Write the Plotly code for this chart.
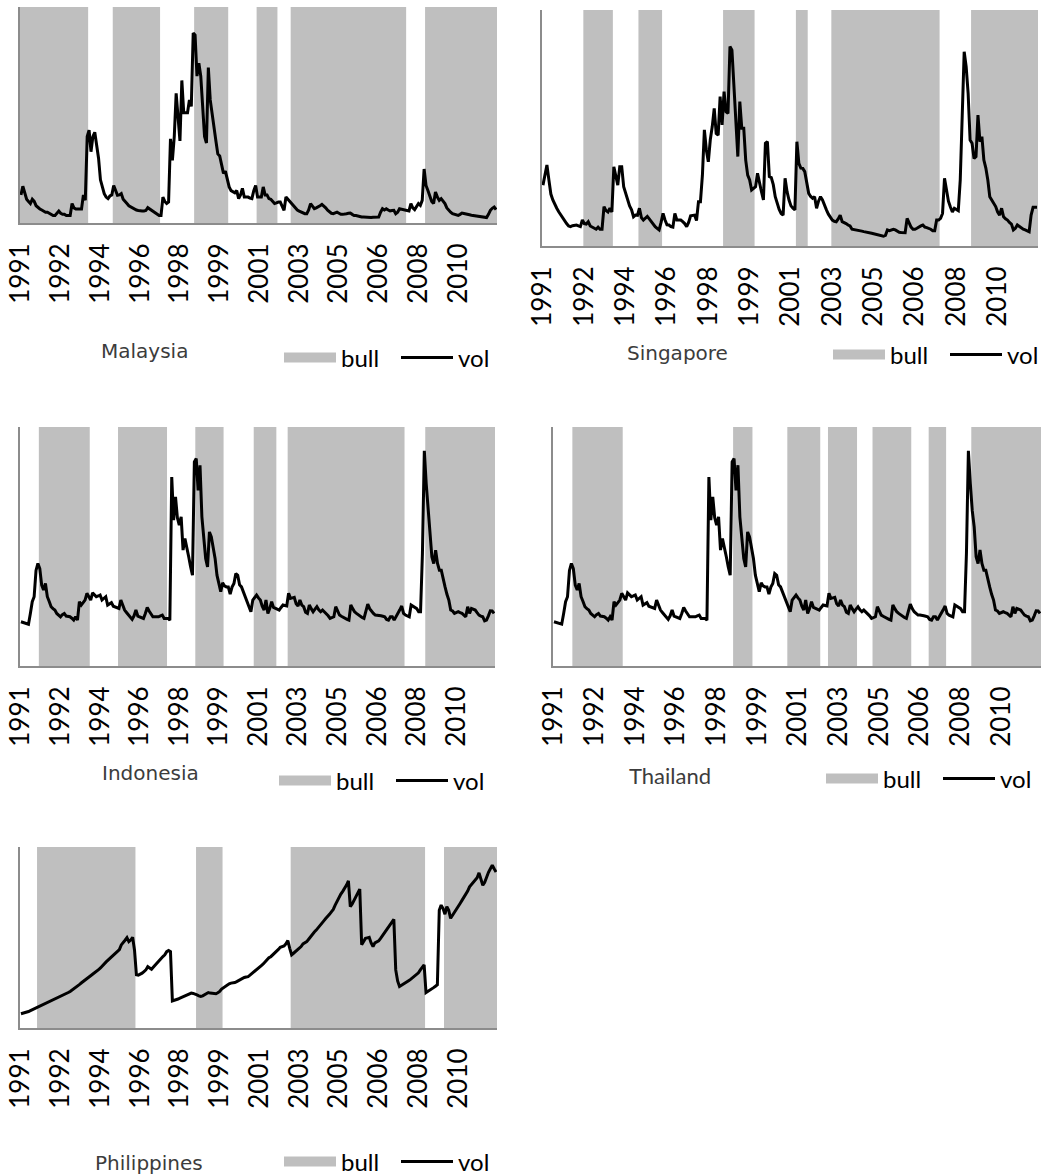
import plotly.graph_objects as go

# ---------------- data ----------------
n_months = 252  # monthly, Jan 1991 .. Dec 2011
tick_idx = list(range(0, 232, 21))
tick_text = ['1991', '1992', '1994', '1996', '1998', '1999',
             '2001', '2003', '2005', '2006', '2008', '2010']

malaysia_vol = [
    13, 17, 14, 11, 10, 9, 11, 10, 8, 7, 6.5, 6,
    5.5, 5, 5, 4.5, 4, 3.5, 3.5, 4.5, 5.5, 4.5, 4, 4,
    3.5, 3.5, 3.5, 9, 7, 6.5, 6.5, 6.5, 6.5, 13, 10.5, 40,
    43, 33, 40, 42, 36, 30, 20, 16, 13.6, 12, 11.3, 12.5,
    13, 17.4, 15, 12.8, 13, 13.6, 11, 9.7, 9, 8, 7.4, 7,
    6.2, 6, 5.8, 5.6, 5.6, 5.6, 5.8, 7.1, 6.5, 6, 5, 4.5,
    4, 3.5, 3.5, 12, 10, 9, 9.7, 39, 29, 40, 60, 50,
    38, 66, 51, 51, 51, 57, 54, 88, 87, 68, 74, 68,
    55, 40, 37, 72, 57, 50, 44, 38, 32, 31, 27, 23,
    24, 20, 16.7, 15, 14.4, 14, 15, 11.3, 13, 16, 12, 12,
    12, 11.5, 11.3, 15, 17.4, 12, 12, 12, 16.7, 13, 13, 11.3,
    11, 10, 9, 9.3, 9.7, 9.7, 8, 5.9, 12, 11, 10, 9,
    8, 6.6, 6, 5.5, 5, 4.6, 4.3, 4.3, 6, 9, 7.5, 6.6,
    7, 7.4, 8, 8.6, 8, 7, 5.9, 5, 4.5, 4.3, 4.6, 5,
    4.5, 4, 4, 4.3, 4.3, 4.5, 4.6, 4, 3.5, 3.5, 3.2, 3,
    2.8, 2.8, 2.7, 2.6, 2.5, 2.6, 2.7, 2.8, 2.8, 2.8, 5, 6.6,
    6, 6.6, 6, 5.6, 5.8, 5.9, 4.3, 5, 6.6, 6.4, 6.2, 6,
    5.6, 5.6, 9, 7, 6.2, 7.5, 9, 8.2, 10.5, 25, 17.4, 15,
    12, 10, 9, 14.4, 12, 10.5, 11.3, 10, 9, 7, 5.9, 5,
    4.3, 4, 3.8, 3.5, 4, 4.6, 4.4, 4.3, 4, 3.8, 3.6, 3.5,
    3.4, 3.3, 3.1, 3, 2.8, 2.6, 2.5, 4, 5.9, 6.8, 7.4, 6.2,
]

singapore_vol = [
    25.8, 30, 34.3, 28, 22, 19.5, 17.5, 16, 14.5, 13.1, 12, 10.3,
    9.5, 8.5, 8.2, 8.6, 8.9, 8.9, 8.5, 8.2, 11, 9.5, 9.3, 10.3,
    8.5, 8, 7.5, 7.1, 8, 7.1, 7.1, 16.7, 15, 14.4, 16, 14.4,
    33.6, 30, 25.8, 33.6, 33.6, 25.1, 22, 19.5, 17, 15.3, 12.4, 13.1,
    13, 16, 12, 11, 11.7, 12.5, 11.5, 10.3, 9, 8.2, 7.5, 6.8,
    10, 13.8, 11, 9, 8.9, 8.2, 8, 13.8, 11, 11, 11, 10.3,
    9.5, 8.2, 10, 12.8, 13, 13.1, 10.8, 18.8, 18.8, 30, 49.2, 40.7,
    35.7, 45, 50.6, 58.3, 47.7, 47, 63.3, 51.3, 65.4, 56.9, 56.2, 84.5,
    83, 67.5, 49.2, 37.9, 61.2, 49.9, 49.9, 36.4, 30, 28, 23.7, 24.5,
    25.1, 30.8, 26, 23, 19.5, 43.5, 44.2, 29.4, 29, 26, 20.9, 18,
    15.5, 13.8, 13.1, 28.7, 23, 19.5, 17, 16, 15.3, 44.2, 35, 33,
    32.9, 31.5, 26.6, 22.3, 21, 20.2, 20.9, 16, 19, 20.9, 19.5, 17,
    15.3, 13.5, 12, 11, 10.5, 10.3, 11.5, 13.1, 10.3, 10, 9.5, 8.9,
    8.5, 7.1, 7, 6.9, 6.8, 6.5, 6.3, 6.1, 6, 5.8, 5.6, 5.4,
    5.2, 5, 4.7, 4.5, 4.4, 4.2, 4.5, 6.8, 6.5, 6.8, 7.1, 6.8,
    6.2, 5.8, 5.7, 5.6, 5.6, 11.7, 9.6, 8, 7.1, 7.1, 7.5, 8.2,
    8.5, 8.9, 8, 7.8, 7.5, 7.1, 6.5, 6.5, 11, 11, 11.7, 13.8,
    28.7, 23, 19, 16.5, 14.4, 16, 15.3, 15, 28, 56.9, 82.3, 76,
    64.7, 44.9, 43.5, 37.1, 37.9, 55.5, 44.2, 46.3, 36.4, 33, 28, 20.9,
    19.5, 18, 16.7, 14.4, 13.1, 16, 12.4, 11.5, 11, 10, 9.3, 6.8,
    7.5, 8.9, 8.2, 7.5, 7.1, 6.8, 6.4, 6, 13.1, 16.4, 16.4, 16.4,
]

indonesia_vol = [
    18.5, 18.3, 18, 17.8, 17.5, 22, 26.9, 29, 40, 42.9, 40.8, 33.8,
    31.8, 34.5, 29, 27, 24.8, 24, 23.4, 22, 21.3, 20.6, 21.5, 22,
    20.9, 20.8, 20.6, 20, 19.2, 20.6, 19.2, 26.9, 25.5, 26.5, 27.6, 30.4,
    29, 27.6, 30.6, 29.8, 29, 29.3, 29.7, 27.6, 28.5, 29, 25.5, 26,
    26.5, 25, 24.8, 24.5, 24.1, 27.6, 25, 23.4, 22.4, 21.3, 20.5, 19.5,
    21, 23.4, 20.9, 20.5, 20.2, 19.9, 22, 24.5, 23, 22, 20.6, 20.6,
    20.6, 20.6, 21, 21.3, 19.9, 19.9, 19.9, 19.2, 79.1, 61, 70.8, 62,
    58.9, 62.4, 48.5, 53.3, 50, 45.7, 41.5, 38, 85.4, 86.8, 73.5, 84,
    62.4, 52, 45, 41.5, 56.1, 54, 50, 45, 38, 34, 31.1, 34.8,
    33.5, 33.1, 33.1, 30.1, 33, 34.5, 38.7, 38, 34, 33.1, 31, 29,
    27, 25.5, 22.7, 27.6, 28.5, 29.7, 28.5, 27.6, 25, 23.4, 27.6, 22,
    24, 26.9, 24.5, 24.1, 24, 23.4, 24.5, 25.5, 25.3, 25.1, 30.4, 28.3,
    28.5, 28.7, 26, 25.1, 27.6, 25.5, 24.8, 22.5, 22, 25.5, 24, 22.7,
    23.8, 24.8, 23.5, 22.7, 23.4, 22.6, 22, 21, 19.9, 20.3, 20.6, 24.8,
    23, 21.3, 20.8, 20.3, 19.9, 19.5, 19.2, 25.5, 24, 22.7, 22, 21.3,
    20.6, 20.3, 19.9, 22.5, 25.9, 24, 22.7, 22, 21.3, 21.3, 21.3, 21,
    20.8, 20.6, 19.5, 19.2, 20.6, 20.6, 19.2, 20.5, 22, 23.5, 25.1, 22,
    21.3, 20.9, 20.6, 25.5, 25, 24.8, 24, 22.7, 22.7, 47.1, 90, 76.3,
    65, 58.2, 45.7, 42.9, 48.5, 42.9, 40.1, 40.1, 36, 33.1, 30, 27.6,
    23.4, 23, 22, 22.3, 22.7, 22.3, 22, 21.3, 20.6, 24.8, 22, 24.1,
    23.8, 23.4, 22.3, 21.3, 20.9, 20.6, 18.9, 19.2, 21, 23.1, 23, 22,
]

# the Thailand panel shows the same vol line as the Indonesia panel
thailand_vol = list(indonesia_vol)

philippines_vol = [
    7.9, 8.1, 8.4, 8.6, 9.1, 9.6, 10.1, 10.5, 11, 11.5, 12, 12.5,
    12.8, 13.3, 13.8, 14.3, 14.7, 15.2, 15.8, 16.5, 17, 17.5, 18, 18.5,
    19, 19.6, 20.2, 20.9, 21.7, 22.5, 23.3, 24.1, 25, 25.7, 26.5, 27.3,
    28.2, 29, 29.8, 30.5, 31.2, 32.2, 33.2, 34.5, 35.5, 36.5, 37.5, 38.5,
    39.5, 40.5, 41.5, 42.2, 43.3, 45.9, 47, 48.5, 49.9, 47.7, 48.6, 50.1,
    43, 29.4, 29.2, 29.6, 30.3, 31.2, 32.1, 33.9, 33.2, 32.5, 33.7, 34.9,
    36, 37.6, 38.5, 39.5, 40.4, 42.2, 42.8, 42.2, 15, 15.2, 15.6, 16,
    16.5, 16.9, 17.4, 17.8, 18.3, 18.8, 19.3, 19.1, 18.9, 18.3, 17.8, 17.4,
    17.8, 18.3, 19, 19.6, 19.3, 19.1, 18.9, 18.9, 19.5, 20.2, 21.5, 22.3,
    23.2, 23.9, 24.4, 24.8, 24.9, 25.1, 25.6, 26.2, 26.8, 27.5, 27.9, 28.2,
    28.4, 29.2, 30, 30.8, 31.6, 32.5, 33.5, 34.5, 35.4, 36.6, 38, 38.8,
    39.4, 40.3, 41.2, 42.2, 43.4, 44.6, 45, 45.3, 46.5, 48.3, 44, 40.4,
    41.3, 42.2, 43.5, 44.5, 45, 46.5, 47.1, 47.7, 49, 50.5, 51.8, 53,
    54.1, 55.5, 57, 57.8, 59.2, 60.5, 61.5, 62.8, 64.2, 65.5, 67.9, 70,
    72.5, 74, 75.5, 77.1, 79, 81.3, 67, 68.5, 70.5, 72.5, 74.5, 76.7,
    46, 47.5, 49.5, 49.8, 50.1, 47, 45, 47, 47.7, 48.1, 49.5, 51,
    52.3, 53.5, 55, 56.5, 57.8, 60, 32.1, 26, 22.9, 23.5, 24.2, 24.8,
    25.5, 26.3, 27, 27.8, 28.8, 29.4, 30.5, 32.1, 33.5, 34.9, 19.6, 20.2,
    20.8, 21.5, 22.3, 23.1, 23.9, 65.1, 67.9, 66, 62.9, 67, 65.1, 60.6,
    62.4, 64.2, 65.8, 67.4, 68.8, 70.5, 72.2, 73.8, 75.6, 78, 79.2, 80.7,
    81.3, 83, 85.7, 82.6, 78.9, 80.5, 83.5, 86, 88, 89.9, 88, 86.2,
]

# bull regimes: inclusive (first month index, last month index)
malaysia_bull = [(0, 35), (49, 73), (92, 109), (125, 135), (143, 203), (214, 251)]
singapore_bull = [(21, 35), (49, 60), (92, 107), (129, 134), (147, 201), (218, 251)]
indonesia_bull = [(10, 36), (52, 77), (93, 107), (124, 135), (142, 203), (215, 251)]
thailand_bull = [(10, 35), (93, 102), (121, 137), (142, 156), (165, 184), (194, 202), (216, 251)]
philippines_bull = [(9, 60), (93, 106), (143, 213), (224, 251)]

# ---------------- layout helpers ----------------
W, H = 1041, 1176
GRAY = '#BFBFBF'
AXIS = '#8C8C8C'
TICKFONT = dict(family='Lato', size=26, color='#000000')


def px_x(v):
    return v / W


def px_y(v):
    return 1 - v / H


panels = [
    dict(name='Malaysia', vol=malaysia_vol, bull=malaysia_bull,
         xd=(20, 497), yd=(7, 223), title=(144, 351), leg=(279, 358),
         tfont=dict(family='DejaVu Sans', size=20, color='#3C3C3C')),
    dict(name='Singapore', vol=singapore_vol, bull=singapore_bull,
         xd=(542, 1038), yd=(10, 246), title=(677, 353), leg=(828, 355),
         tfont=dict(family='DejaVu Sans', size=20, color='#3C3C3C')),
    dict(name='Indonesia', vol=indonesia_vol, bull=indonesia_bull,
         xd=(20, 495), yd=(427, 666), title=(150, 773), leg=(274, 781),
         tfont=dict(family='DejaVu Sans', size=20, color='#3C3C3C')),
    dict(name='Thailand', vol=thailand_vol, bull=thailand_bull,
         xd=(553, 1041), yd=(427, 666), title=(670, 775), leg=(821, 779),
         tfont=dict(family='Lato', size=22, color='#3C3C3C')),
    dict(name='Philippines', vol=philippines_vol, bull=philippines_bull,
         xd=(20, 497), yd=(847, 1028), title=(149, 1163), leg=(279, 1162),
         tfont=dict(family='DejaVu Sans', size=20, color='#3C3C3C')),
]

fig = go.Figure()
layout = dict(width=W, height=H, autosize=False,
              margin=dict(l=0, r=0, t=0, b=0, autoexpand=False),
              paper_bgcolor='white', plot_bgcolor='rgba(0,0,0,0)',
              annotations=[])

months = list(range(n_months))
for k, p in enumerate(panels, start=1):
    assert len(p['vol']) == n_months
    bull = [0] * n_months
    for a, b in p['bull']:
        for i in range(a, b + 1):
            bull[i] = 1
    xa = 'x' if k == 1 else f'x{k}'
    yb_n = 2 * k - 1
    yv_n = 2 * k
    yb = 'y' if yb_n == 1 else f'y{yb_n}'
    yv = f'y{yv_n}'
    leg = 'legend' if k == 1 else f'legend{k}'

    # bull regimes as a stepped filled area
    fig.add_trace(go.Scatter(
        x=[i - 0.5 for i in months] + [n_months - 0.5],
        y=bull + [bull[-1]],
        mode='lines', line=dict(width=0, shape='hv', color=GRAY),
        fill='tozeroy', fillcolor=GRAY, hoverinfo='skip',
        showlegend=False, legendgroup=f'bull{k}',
        xaxis=xa, yaxis=yb))
    # legend key for bull
    fig.add_trace(go.Scatter(
        x=[None], y=[None], mode='lines', name='bull',
        line=dict(color=GRAY, width=15), legendgroup=f'bull{k}',
        legend=leg, xaxis=xa, yaxis=yb))
    # vol line
    fig.add_trace(go.Scatter(
        x=months, y=p['vol'], mode='lines', name='vol',
        line=dict(color='black', width=3),
        legend=leg, xaxis=xa, yaxis=yv))

    x0, x1 = p['xd']
    yt, ybm = p['yd']
    xdom = [px_x(x0), min(1.0, px_x(x1))]
    ydom = [px_y(ybm), px_y(yt)]
    xkey = 'xaxis' if k == 1 else f'xaxis{k}'
    layout[xkey] = dict(
        domain=xdom, anchor=yb, range=[-0.5, n_months - 0.5],
        tickmode='array', tickvals=tick_idx, ticktext=tick_text,
        tickangle=-90, tickfont=TICKFONT, ticks='', ticklabelstandoff=8,
        showline=True, linecolor=AXIS, linewidth=2,
        showgrid=False, zeroline=False, fixedrange=True, automargin=False)
    ybkey = 'yaxis' if yb_n == 1 else f'yaxis{yb_n}'
    layout[ybkey] = dict(
        domain=ydom, anchor=xa, range=[0, 1],
        showline=True, linecolor=AXIS, linewidth=2,
        showticklabels=False, ticks='', showgrid=False, zeroline=False,
        fixedrange=True, automargin=False)
    layout[f'yaxis{yv_n}'] = dict(
        domain=ydom, anchor=xa, overlaying=yb, range=[0, 100],
        visible=False, fixedrange=True)
    layout[leg] = dict(
        orientation='h', x=px_x(p['leg'][0]), y=px_y(p['leg'][1]),
        xanchor='left', yanchor='middle', bgcolor='rgba(0,0,0,0)',
        font=dict(family='Lato', size=24, color='#000000'),
        itemwidth=52, entrywidth=50, entrywidthmode='pixels',
        traceorder='normal', tracegroupgap=0,
        itemclick=False, itemdoubleclick=False)
    layout['annotations'].append(dict(
        text=p['name'], xref='paper', yref='paper',
        x=px_x(p['title'][0]), y=px_y(p['title'][1]),
        xanchor='center', yanchor='middle', showarrow=False,
        font=p['tfont']))

fig.update_layout(**layout)
fig.write_html('out.html',
               config={'displayModeBar': False},
               post_script="document.body.style.margin='0px';"
                           "document.body.style.padding='0px';")
